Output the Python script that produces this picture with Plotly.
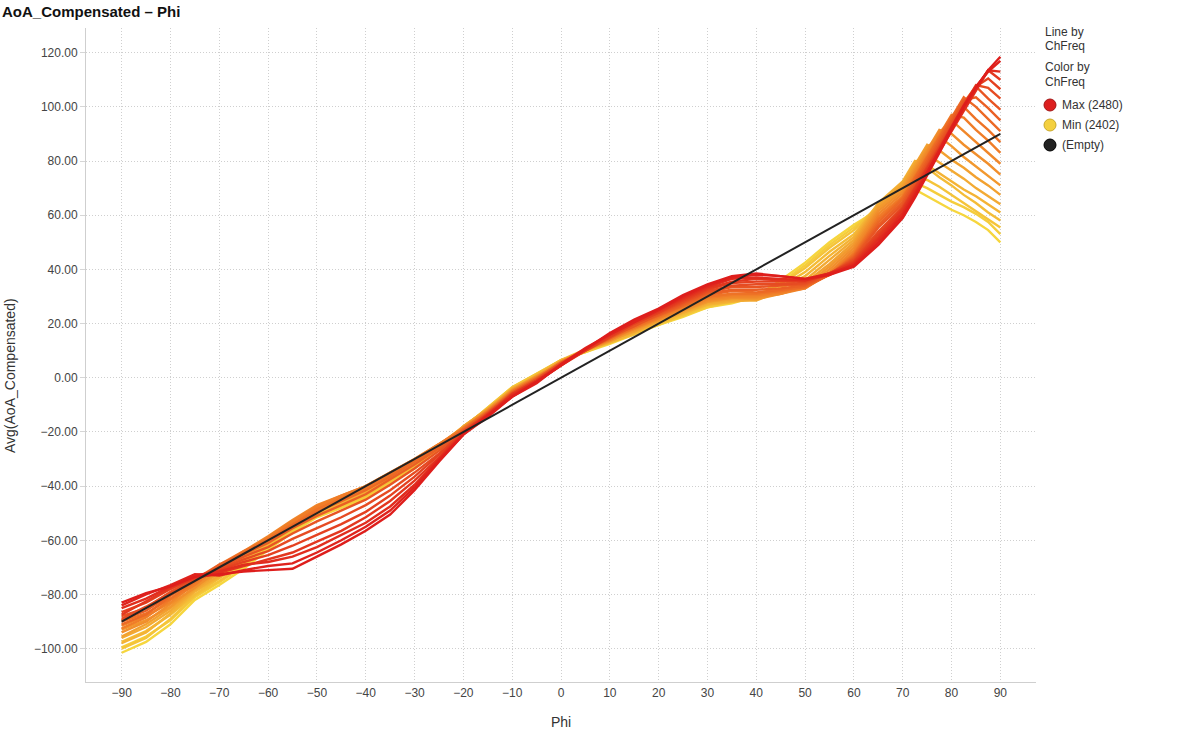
import plotly.graph_objects as go

# ---------------- data ----------------
PHI = [-90, -85, -80, -75, -70, -65, -60, -55, -50, -45, -40, -35, -30, -25, -20,
       -15, -10, -5, 0, 5, 10, 15, 20, 25, 30, 35, 40, 45, 50, 55, 60, 65, 70,
       72.5, 75, 77.5, 80, 82.5, 85, 87.5, 90]

CHANNELS = [2402, 2406, 2410, 2414, 2418, 2422, 2426, 2430, 2434, 2438, 2442,
            2446, 2450, 2454, 2458, 2462, 2466, 2470, 2474, 2478, 2480]

# Avg(AoA_Compensated) at each PHI value; each row lists the channels in CHANNELS order
AOA_AT_PHI = [
    [-101.5, -99.5, -100.0, -97.5, -98.0, -96.0, -95.5, -93.0, -94.0, -91.5, -92.5, -90.0, -91.0, -89.5, -88.0, -89.0, -86.5, -87.5, -85.0, -84.0, -83.0],  # -90
    [-97.5, -95.5, -96.0, -93.5, -94.0, -92.0, -91.0, -89.5, -90.0, -88.0, -88.5, -87.0, -87.5, -86.0, -85.0, -84.5, -83.0, -82.5, -81.5, -80.0, -79.5],  # -85
    [-91.0, -89.5, -89.0, -87.5, -87.0, -86.0, -85.0, -84.5, -83.5, -83.0, -82.0, -81.5, -80.5, -80.0, -79.0, -79.5, -78.0, -77.5, -77.0, -76.5, -77.0],  # -80
    [-82.0, -81.0, -80.5, -80.0, -79.0, -78.5, -78.0, -77.0, -77.5, -76.0, -76.5, -75.5, -75.0, -74.5, -74.0, -74.5, -73.5, -74.0, -73.0, -72.5, -73.5],  # -75
    [-76.5, -75.5, -75.0, -74.0, -73.5, -73.0, -72.0, -71.5, -70.5, -70.0, -69.5, -69.0, -69.5, -69.0, -70.0, -70.5, -71.0, -72.0, -71.5, -73.0, -72.5],  # -70
    [-70.5, -69.5, -69.0, -68.0, -67.5, -66.5, -66.0, -65.0, -65.0, -64.0, -64.5, -64.0, -64.5, -65.0, -66.0, -67.0, -68.0, -69.5, -69.0, -71.0, -71.5],  # -65
    [-63.5, -62.5, -62.0, -61.5, -61.0, -60.5, -60.0, -59.5, -59.0, -58.5, -59.0, -59.5, -60.0, -61.0, -62.5, -64.0, -65.5, -67.0, -68.0, -69.5, -71.0],  # -60
    [-57.0, -56.5, -56.0, -55.5, -55.5, -54.5, -54.0, -53.5, -53.0, -52.5, -53.0, -54.0, -54.5, -55.5, -57.5, -59.5, -62.0, -64.5, -66.0, -68.5, -70.5],  # -55
    [-51.5, -51.0, -50.5, -50.0, -49.5, -49.0, -48.5, -48.0, -47.5, -47.0, -47.5, -48.5, -49.5, -51.0, -53.0, -55.5, -58.0, -60.5, -62.5, -64.5, -66.0],  # -50
    [-48.0, -47.5, -47.0, -46.5, -46.0, -45.5, -45.0, -44.5, -44.0, -43.5, -43.5, -44.5, -45.5, -47.0, -49.0, -51.5, -54.0, -56.5, -58.0, -60.0, -61.5],  # -45
    [-44.5, -44.0, -43.5, -43.0, -42.5, -42.0, -41.5, -41.0, -40.5, -40.0, -40.0, -40.5, -41.5, -43.0, -45.0, -47.0, -49.5, -51.5, -53.5, -55.0, -56.5],  # -40
    [-39.0, -38.5, -38.0, -38.0, -37.5, -37.0, -36.5, -36.0, -35.5, -35.0, -35.0, -35.5, -36.5, -37.5, -39.5, -41.5, -43.5, -45.5, -47.5, -49.0, -50.5],  # -35
    [-33.5, -33.0, -32.5, -32.5, -32.0, -31.5, -31.0, -30.5, -30.5, -30.0, -30.0, -30.5, -31.0, -32.0, -33.5, -35.0, -36.5, -38.0, -39.5, -40.5, -41.5],  # -30
    [-26.5, -26.5, -26.0, -26.0, -25.5, -25.5, -25.0, -25.0, -24.5, -24.5, -24.5, -25.0, -25.5, -26.0, -27.0, -28.0, -28.5, -29.5, -30.0, -30.5, -31.0],  # -25
    [-18.5, -18.0, -18.5, -18.0, -18.0, -18.5, -18.0, -18.5, -18.5, -19.0, -18.5, -19.0, -19.0, -19.5, -19.5, -20.0, -20.0, -20.5, -20.5, -21.0, -21.0],  # -20
    [-11.0, -11.5, -11.0, -11.5, -11.5, -12.0, -11.5, -12.0, -12.5, -12.0, -12.5, -13.0, -12.5, -13.0, -13.5, -13.0, -13.5, -14.0, -13.5, -14.5, -14.0],  # -15
    [-3.5, -4.0, -3.5, -4.0, -4.5, -4.0, -4.5, -5.0, -4.5, -5.0, -5.5, -5.0, -5.5, -6.0, -5.5, -6.0, -6.5, -6.0, -6.5, -7.0, -7.0],  # -10
    [1.5, 1.0, 1.5, 0.5, 1.0, 0.5, 0.5, 0.0, 0.5, 0.0, -0.5, 0.0, -0.5, -1.0, -0.5, -1.0, -1.5, -1.0, -1.5, -2.0, -1.5],  # -5
    [6.5, 6.0, 6.5, 6.0, 6.5, 6.0, 5.5, 6.0, 5.5, 6.0, 5.5, 5.0, 5.5, 5.0, 5.5, 5.0, 4.5, 5.0, 4.5, 5.0, 4.5],  # 0
    [9.5, 10.0, 9.5, 10.0, 10.5, 10.0, 10.5, 10.0, 10.5, 10.0, 10.5, 10.0, 10.5, 10.5, 10.0, 10.5, 10.0, 10.5, 10.5, 11.0, 10.5],  # 5
    [12.5, 13.0, 13.0, 13.5, 13.0, 13.5, 14.0, 13.5, 14.0, 14.5, 14.0, 14.5, 15.0, 14.5, 15.0, 15.5, 15.0, 15.5, 16.0, 16.0, 16.5],  # 10
    [16.0, 16.5, 16.0, 17.0, 16.5, 17.5, 17.0, 17.5, 18.0, 18.0, 18.5, 18.5, 19.0, 19.5, 19.0, 20.0, 20.0, 20.5, 21.0, 20.5, 21.5],  # 15
    [19.5, 19.5, 20.0, 20.0, 20.5, 21.0, 21.0, 21.5, 21.5, 22.0, 22.0, 22.5, 23.0, 23.0, 23.5, 24.0, 24.0, 24.5, 25.0, 25.0, 25.5],  # 20
    [22.5, 23.0, 23.0, 23.5, 24.0, 24.0, 24.5, 25.0, 25.0, 25.5, 26.0, 26.5, 26.5, 27.0, 27.5, 28.0, 28.5, 29.0, 29.5, 30.0, 30.5],  # 25
    [26.0, 26.0, 26.5, 27.0, 27.0, 27.5, 28.0, 28.0, 28.5, 29.0, 29.5, 30.0, 30.5, 31.0, 31.5, 32.0, 32.5, 33.0, 33.5, 34.0, 34.5],  # 30
    [27.5, 28.0, 28.0, 28.5, 28.0, 28.5, 29.0, 29.5, 29.5, 30.0, 30.5, 31.0, 32.0, 32.5, 33.5, 34.0, 35.0, 35.5, 36.5, 37.0, 37.5],  # 35
    [30.0, 29.5, 29.5, 29.0, 29.0, 28.5, 29.0, 29.0, 29.5, 30.0, 30.5, 31.0, 31.5, 32.5, 33.5, 34.5, 35.5, 36.5, 37.0, 38.0, 38.5],  # 40
    [36.0, 35.0, 34.5, 33.5, 33.0, 32.0, 31.5, 31.0, 31.0, 31.0, 31.5, 32.0, 32.5, 33.0, 34.0, 34.5, 35.5, 36.0, 36.5, 37.5, 37.5],  # 45
    [42.5, 41.5, 40.5, 39.0, 37.5, 36.0, 35.0, 34.0, 33.5, 33.0, 33.0, 33.5, 33.5, 34.0, 34.5, 35.0, 35.5, 36.0, 36.0, 36.5, 36.5],  # 50
    [50.0, 49.0, 48.0, 46.5, 45.0, 43.5, 42.0, 41.0, 40.0, 39.0, 38.5, 38.0, 38.0, 38.0, 38.0, 38.5, 38.5, 38.5, 38.0, 38.5, 38.0],  # 55
    [56.5, 55.5, 54.5, 53.0, 52.0, 51.0, 50.0, 49.0, 48.0, 47.0, 46.0, 45.5, 45.0, 44.5, 44.0, 43.5, 43.0, 42.5, 42.0, 41.5, 41.0],  # 60
    [62.0, 63.0, 63.5, 64.0, 64.5, 64.0, 63.5, 62.5, 61.5, 60.5, 59.5, 58.5, 57.5, 56.5, 55.5, 54.0, 53.0, 52.0, 51.0, 50.0, 49.0],  # 65
    [69.0, 70.0, 71.0, 72.0, 72.5, 72.0, 71.0, 70.0, 69.0, 68.0, 67.0, 66.5, 66.0, 65.0, 64.0, 63.0, 62.5, 62.0, 61.0, 60.0, 59.0],  # 70
    [69.5, 72.0, 74.0, 75.5, 80.0, 79.5, 78.5, 77.5, 76.5, 75.5, 74.5, 74.0, 73.5, 72.5, 71.5, 70.5, 70.0, 69.5, 68.5, 67.5, 66.5],  # 72.5
    [67.0, 70.0, 73.0, 77.5, 78.5, 82.5, 86.0, 85.0, 84.0, 83.0, 82.0, 81.5, 81.0, 80.0, 79.0, 78.0, 77.5, 77.0, 76.0, 75.5, 74.5],  # 75
    [64.5, 67.5, 70.5, 74.0, 75.5, 79.5, 84.0, 89.0, 91.5, 90.5, 89.5, 89.0, 88.5, 87.5, 86.5, 85.5, 85.0, 84.5, 83.5, 84.0, 83.0],  # 77.5
    [62.0, 65.0, 67.5, 71.0, 72.5, 76.5, 80.5, 85.5, 90.0, 95.0, 97.0, 96.5, 96.0, 95.0, 94.0, 93.0, 92.5, 92.0, 91.0, 92.5, 91.5],  # 80
    [60.0, 63.0, 64.5, 67.5, 69.5, 73.5, 77.5, 81.5, 86.0, 91.0, 96.0, 100.0, 103.5, 102.5, 101.5, 100.5, 100.0, 99.5, 98.5, 100.5, 100.0],  # 82.5
    [57.5, 60.5, 61.5, 64.5, 67.0, 70.0, 74.0, 78.0, 82.5, 87.0, 91.5, 95.5, 100.0, 103.5, 107.5, 108.0, 107.5, 107.0, 106.0, 107.5, 107.0],  # 85
    [54.5, 57.5, 58.5, 61.0, 64.0, 67.0, 71.0, 74.5, 79.0, 83.0, 87.5, 91.5, 95.5, 99.5, 103.0, 107.0, 110.5, 113.5, 113.5, 113.0, 113.5],  # 87.5
    [50.0, 53.0, 55.5, 58.0, 61.0, 64.0, 67.5, 71.0, 75.0, 79.0, 83.0, 87.0, 91.0, 95.0, 99.0, 103.0, 106.5, 110.0, 113.0, 117.0, 118.5],  # 90
]

# "(Empty)" reference line
REF_PHI = [-90, 90]
REF_AOA = [-90, 90]

X_TICKS = [-90, -80, -70, -60, -50, -40, -30, -20, -10, 0, 10, 20, 30, 40, 50, 60, 70, 80, 90]
Y_TICKS = [-100, -80, -60, -40, -20, 0, 20, 40, 60, 80, 100, 120]

LEGEND_ITEMS = ["Max (2480)", "Min (2402)", "(Empty)"]

# ---------------- styling ----------------
W, H = 1200, 733
PLOT_L, PLOT_R, PLOT_T, PLOT_B = 86, 1036, 28, 682
FONT = "Liberation Sans, Arial, sans-serif"

YELLOW = (246, 214, 62)
ORANGE = (240, 128, 40)
RED = (222, 30, 28)


def channel_color(ch):
    t = (ch - CHANNELS[0]) / (CHANNELS[-1] - CHANNELS[0])
    if t <= 0.5:
        a, b, u = YELLOW, ORANGE, t / 0.5
    else:
        a, b, u = ORANGE, RED, (t - 0.5) / 0.5
    r, g, bl = (round(a[i] + (b[i] - a[i]) * u) for i in range(3))
    return f"rgb({r},{g},{bl})"


def px_x(px):
    return (px - PLOT_L) / (PLOT_R - PLOT_L)


def px_y(py):
    return (PLOT_B - py) / (PLOT_B - PLOT_T)


fig = go.Figure()

for i, ch in enumerate(CHANNELS):
    series = [row[i] for row in AOA_AT_PHI]
    fig.add_trace(go.Scatter(
        x=PHI, y=series, mode="lines", name=str(ch),
        line=dict(color=channel_color(ch), width=2.4),
        showlegend=False, hoverinfo="x+y+name"))

fig.add_trace(go.Scatter(
    x=REF_PHI, y=REF_AOA, mode="lines", name="(Empty)",
    line=dict(color="#222222", width=2), showlegend=False))

# ---------------- legend (drawn as text + dots) ----------------
annotations = []
shapes = []
header = [("Line by", 32), ("ChFreq", 46), ("Color by", 67), ("ChFreq", 82)]
for txt, py in header:
    annotations.append(dict(text=txt, x=px_x(1043), y=px_y(py), xref="paper", yref="paper",
                            xanchor="left", yanchor="middle", showarrow=False,
                            font=dict(family=FONT, size=12, color="#333333")))
legend_colors = [("#dc1f1f", "#a31616"), ("#f4d03f", "#c9a92a"), ("#222222", "#000000")]
for k, (label, (fc, lc)) in enumerate(zip(LEGEND_ITEMS, legend_colors)):
    cy = 105 + 20 * k
    annotations.append(dict(text=label, x=px_x(1060), y=px_y(cy), xref="paper", yref="paper",
                            xanchor="left", yanchor="middle", showarrow=False,
                            font=dict(family=FONT, size=12, color="#333333")))
    shapes.append(dict(type="circle", xref="paper", yref="paper",
                       x0=px_x(1044), x1=px_x(1056), y0=px_y(cy + 6), y1=px_y(cy - 6),
                       fillcolor=fc, line=dict(color=lc, width=1), layer="above"))

# axis titles
annotations.append(dict(text="Avg(AoA_Compensated)", x=px_x(10), y=px_y(376), xref="paper", yref="paper",
                        xanchor="center", yanchor="middle", textangle=-90, showarrow=False,
                        font=dict(family=FONT, size=14, color="#333333")))
annotations.append(dict(text="Phi", x=px_x(561), y=px_y(722), xref="paper", yref="paper",
                        xanchor="center", yanchor="middle", showarrow=False,
                        font=dict(family=FONT, size=14, color="#333333")))

GRID = dict(showgrid=True, gridcolor="#cfcfcf", griddash="1px,2px", gridwidth=1,
            zeroline=False, showline=True, linecolor="#cfcfcf", linewidth=1,
            automargin=False, fixedrange=True)

fig.update_layout(
    width=W, height=H,
    margin=dict(l=PLOT_L, r=W - PLOT_R, t=PLOT_T, b=H - PLOT_B, autoexpand=False),
    paper_bgcolor="white", plot_bgcolor="white",
    title=dict(text="<b>AoA_Compensated – Phi</b>", x=2 / W, xanchor="left", xref="container",
               y=1 - 12 / H, yanchor="middle",
               font=dict(family=FONT, size=15, color="#111111")),
    showlegend=False,
    annotations=annotations,
    shapes=shapes,
    xaxis=dict(range=[-97.3, 97.3], tickvals=X_TICKS, ticks="",
               tickfont=dict(family=FONT, size=12, color="#444444"), **GRID),
    yaxis=dict(range=[-112.3, 129.1], tickvals=Y_TICKS, tickformat=".2f",
               ticks="outside", ticklen=5, tickcolor="#d6d6d6",
               tickfont=dict(family=FONT, size=12, color="#444444"), **GRID),
    hovermode="closest",
)

fig.write_html("out.html")
